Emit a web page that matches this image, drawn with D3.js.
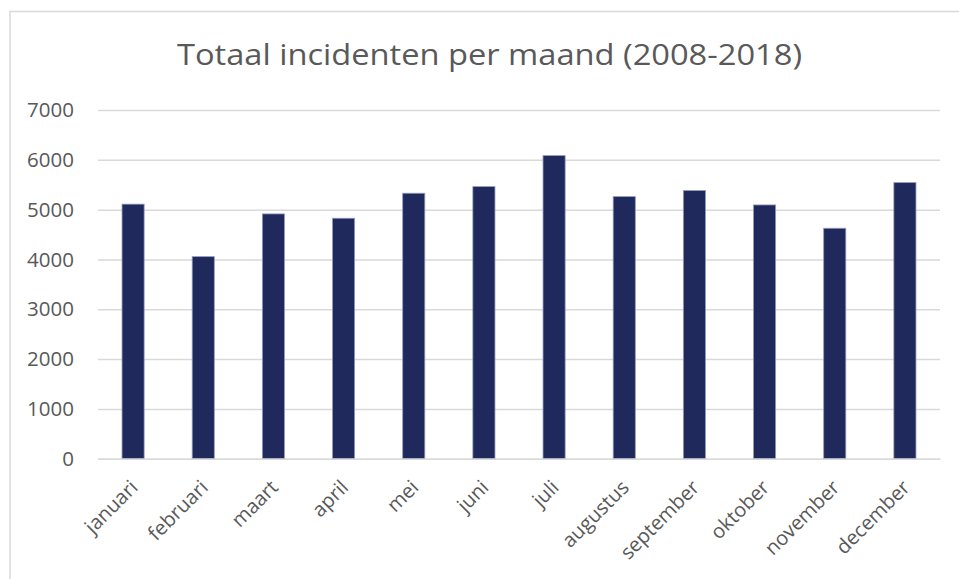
<!DOCTYPE html>
<html>
<head>
<meta charset="utf-8">
<script src="https://cdn.jsdelivr.net/npm/d3@7/dist/d3.min.js"></script>
<style>
html,body{margin:0;padding:0;background:#fff;}
svg{display:block;}
</style>
</head>
<body>
<svg id="chart" width="959" height="579"></svg>
<script>
const months = ["januari","februari","maart","april","mei","juni","juli","augustus","september","oktober","november","december"];
const incidents = [5110, 4056, 4914, 4827, 5329, 5462, 6084, 5261, 5382, 5094, 4626, 5542];
const yTicks = [0, 1000, 2000, 3000, 4000, 5000, 6000, 7000];
const title = "Totaal incidenten per maand (2008-2018)";

const svg = d3.select("#chart");
const W = 959, H = 579;
const plotLeft = 98, plotRight = 940, plotTop = 110, plotBottom = 458.7;
const font = "'Open Sans', sans-serif";

// chart border
svg.append("rect").attr("x", 10).attr("y", 11.5).attr("width", W).attr("height", H)
  .attr("fill", "#fff").attr("stroke", "#d9d9d9").attr("stroke-width", 1.5);

const x = d3.scaleBand().domain(months).range([plotLeft, plotRight])
  .paddingInner(0.685).paddingOuter(0.3425);
const y = d3.scaleLinear().domain([0, 7000]).range([plotBottom, plotTop]);

// gridlines + y labels
const yAxis = d3.axisLeft(y).tickValues(yTicks).tickFormat(d3.format("d"))
  .tickSize(-(plotRight - plotLeft)).tickPadding(24);
const gy = svg.append("g").attr("transform", `translate(${plotLeft},0)`).call(yAxis);
gy.select(".domain").remove();
gy.selectAll(".tick line").attr("stroke", "#d9d9d9").attr("stroke-width", 1.5);
gy.selectAll(".tick text").attr("fill", "#595959")
  .style("font-family", font).style("font-size", "20.5px");

// bars
svg.append("g").selectAll("rect").data(months).join("rect")
  .attr("x", d => x(d))
  .attr("y", (d, i) => y(incidents[i]))
  .attr("width", x.bandwidth())
  .attr("height", (d, i) => y(0) - y(incidents[i]))
  .attr("fill", "#1f295b")
  .attr("stroke", "#9299bb").attr("stroke-width", 0.8);

// x axis
const xAxis = d3.axisBottom(x).tickSize(0).tickPadding(0);
const gx = svg.append("g").attr("transform", `translate(0,${plotBottom})`).call(xAxis);
gx.select(".domain").attr("stroke", "#d9d9d9").attr("stroke-width", 1.5);
gx.selectAll(".tick text")
  .attr("fill", "#595959")
  .style("font-family", font).style("font-size", "20px")
  .attr("text-anchor", "end")
  .attr("y", 0)
  .attr("dy", 0)
  .attr("transform", "translate(6,30) rotate(-45)");

// title
svg.append("text").attr("x", 489.5).attr("y", 65).attr("text-anchor", "middle")
  .attr("fill", "#595959")
  .style("font-family", font).style("font-size", "30px")
  .attr("textLength", 625).attr("lengthAdjust", "spacingAndGlyphs")
  .text(title);
</script>
</body>
</html>
